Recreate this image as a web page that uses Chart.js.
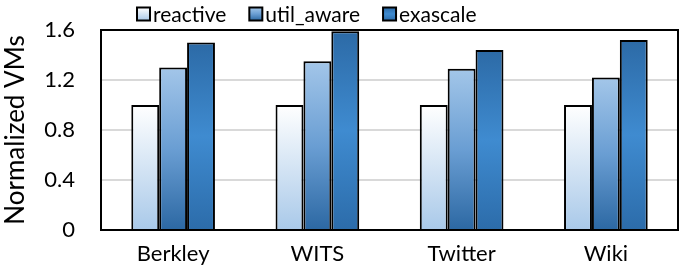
<!DOCTYPE html>
<html><head><meta charset="utf-8">
<script src="https://cdn.jsdelivr.net/npm/chart.js@4"></script>
<style>html,body{margin:0;padding:0;background:#fff}#w{width:681px;height:269px}</style>
</head><body><div id="w"><canvas id="c"></canvas></div>
<script>
const categories = ["Berkley", "WITS", "Twitter", "Wiki"];
const reactive = [1.0, 1.0, 1.0, 1.0];
const utilAware = [1.30, 1.35, 1.29, 1.22];
const exascale = [1.50, 1.59, 1.44, 1.52];
const yTicks = [0, 0.4, 0.8, 1.2, 1.6];

const FONT = "Lato";
const gReactive = [[0, "#ffffff"], [1, "#a9c9e9"]];
const gUtil = [[0, "#a3c6e9"], [0.5, "#6a9ed3"], [1, "#2c68a3"]];
const gExa = [[0, "#2c6aa6"], [0.5, "#3f8bd0"], [1, "#2c6caa"]];

function makeGrad(c, top, bot, stops) {
  const g = c.createLinearGradient(0, top, 0, bot);
  stops.forEach(s => g.addColorStop(s[0], s[1]));
  return g;
}
function grad(stops) {
  return function(ctx) {
    const chart = ctx.chart; const area = chart.chartArea;
    if (!area || ctx.raw === undefined) return stops[0][1];
    const y = chart.scales.y;
    return makeGrad(chart.ctx, y.getPixelForValue(ctx.raw), y.getPixelForValue(0), stops);
  };
}

const framePlugin = {
  id: 'frame',
  afterDraw(chart) {
    const a = chart.chartArea, c = chart.ctx;
    c.save(); c.strokeStyle = "#000"; c.lineWidth = 2;
    c.strokeRect(a.left, a.top, a.right - a.left, a.bottom - a.top);
    c.restore();
  }
};
const legendPlugin = {
  id: 'customLegend',
  afterDraw(chart) {
    const c = chart.ctx;
    c.save();
    c.font = "21px " + FONT;
    c.textBaseline = "middle";
    c.fillStyle = "#000";
    let x = chart.chartArea.left + 36;
    const yc = 14, box = 13;
    chart.data.datasets.forEach((d) => {
      c.fillStyle = makeGrad(c, yc - box / 2, yc + box / 2, d._legendStops);
      c.fillRect(x, yc - box / 2, box, box);
      c.strokeStyle = "#000"; c.lineWidth = 2;
      c.strokeRect(x, yc - box / 2, box, box);
      c.fillStyle = "#000";
      c.fillText(d.label, x + box + 3, yc + 1);
      x += box + 3 + c.measureText(d.label).width + 23;
    });
    c.restore();
  }
};

new Chart(document.getElementById('c'), {
  type: 'bar',
  data: {
    labels: categories,
    datasets: [
      { label: "reactive", data: reactive, _legendStops: gReactive, backgroundColor: grad(gReactive), borderColor: "#000", borderWidth: 2 },
      { label: "util_aware", data: utilAware, _legendStops: gUtil, backgroundColor: grad(gUtil), borderColor: "#000", borderWidth: 2 },
      { label: "exascale", data: exascale, _legendStops: gExa, backgroundColor: grad(gExa), borderColor: "#000", borderWidth: 2 }
    ]
  },
  options: {
    responsive: true, maintainAspectRatio: false, animation: false,
    layout: { padding: { left: 0, right: 3, top: 30, bottom: 0 } },
    datasets: { bar: { categoryPercentage: 0.58, barPercentage: 1.0 } },
    plugins: {
      tooltip: { enabled: false },
      legend: { display: false }
    },
    scales: {
      x: {
        grid: { display: false },
        border: { color: "#000", width: 2 },
        ticks: { font: { family: FONT, size: 22 }, color: "#000", padding: 3 },
        afterFit(s) { s.height = 39; s.paddingLeft = 0; s.paddingRight = 0; }
      },
      y: {
        min: 0, max: 1.6,
        afterBuildTicks(s) { s.ticks = yTicks.map(v => ({ value: v })); },
        grid: { color: (c) => (c.tick && c.tick.value === 1.6) ? "rgba(0,0,0,0)" : "#d9d9d9", lineWidth: 2, drawTicks: false },
        border: { color: "#000", width: 2 },
        ticks: { font: { family: FONT, size: 22 }, color: "#000", padding: 26,
          callback: (v) => v === 0 ? "0" : v.toFixed(1) },
        title: { display: true, text: "Normalized VMs", font: { family: FONT, size: 26 }, color: "#000", padding: { top: 0, bottom: 0 } },
        afterFit(s) { s.width = 101; s.paddingTop = 0; s.paddingBottom = 0; }
      }
    }
  },
  plugins: [framePlugin, legendPlugin]
});
</script></body></html>
